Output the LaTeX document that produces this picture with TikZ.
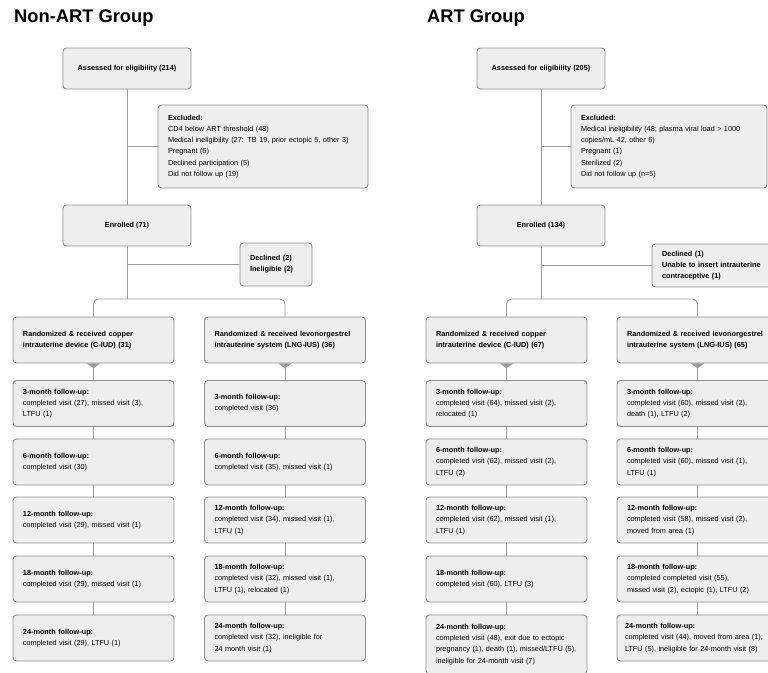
\documentclass[tikz,border=0pt]{standalone}
\usepackage{fontspec}
\setmainfont{Liberation Sans}

\definecolor{boxfill}{HTML}{EEEEEE}
\definecolor{boxline}{HTML}{8F8F8F}
\definecolor{linkline}{HTML}{9C9C9C}
\newcommand{\splitmark}[1]{\fill[linkline] ([xshift=-6.5pt]#1.south) -- ([xshift=6.5pt]#1.south) -- ([yshift=-5pt]#1.south) -- cycle;}

\begin{document}
\begin{tikzpicture}[x=1pt, y=-1pt,
    every node/.style={font=\fontsize{7.3}{11.2}\selectfont},
    box/.style={draw=boxline, fill=boxfill, line width=0.9pt, rounded corners=3.5pt, inner xsep=10pt, inner ysep=0pt, align=left},
    headbox/.style={box, minimum width=128pt, minimum height=41pt, align=center, font=\fontsize{7.3}{11.2}\selectfont\bfseries},
    armbox/.style={box, text width=141pt, minimum height=46pt},
    armhead/.style={armbox, font=\fontsize{7.3}{11.2}\selectfont\bfseries},
    link/.style={draw=linkline, line width=0.9pt},
    heading/.style={anchor=base west, inner sep=0pt, font=\fontsize{18.3}{22}\selectfont\bfseries}]

    \useasboundingbox (0,0) rectangle (768,672);
    \clip (0,0) rectangle (768,672);

    \node[heading] (titleA) at (14,22.7) {Non-ART Group};
    \node[heading] (titleB) at (427,22.7) {ART Group};

    \node[headbox] (assA) at (127,68.5) {Assessed for eligibility (214)};
    \node[box, text width=190pt, minimum height=83pt] (exclA) at (263,146.5) {\textbf{Excluded:}\\CD4 below ART threshold (48)\\Medical ineligibility (27: TB 19, prior ectopic 5, other 3)\\Pregnant (6)\\Declined participation (5)\\Did not follow up (19)};
    \node[headbox] (enrA) at (127,225.5) {Enrolled (71)};
    \node[box, text width=52pt, minimum height=43pt, font=\fontsize{7.3}{11.2}\selectfont\bfseries] (declA) at (276,264.5) {Declined (2)\\Ineligible (2)};

    \node[armhead] (cuA0) at (93.5,340) {Randomized \& received copper\\intrauterine device (C-IUD) (31)};
    \node[armbox] (cuA1) at (93.5,403.5) {\textbf{3-month follow-up:}\\completed visit (27), missed visit (3),\\LTFU (1)};
    \node[armbox] (cuA2) at (93.5,462) {\textbf{6-month follow-up:}\\completed visit (30)};
    \node[armbox] (cuA3) at (93.5,520) {\textbf{12-month follow-up:}\\completed visit (29), missed visit (1)};
    \node[armbox] (cuA4) at (93.5,579) {\textbf{18-month follow-up:}\\completed visit (29), missed visit (1)};
    \node[armbox] (cuA5) at (93.5,638) {\textbf{24-month follow-up:}\\completed visit (29), LTFU (1)};

    \node[armhead] (lnA0) at (285,340) {Randomized \& received levonorgestrel\\intrauterine system (LNG-IUS) (36)};
    \node[armbox] (lnA1) at (285,403.5) {\textbf{3-month follow-up:}\\completed visit (36)};
    \node[armbox] (lnA2) at (285,462) {\textbf{6-month follow-up:}\\completed visit (35), missed visit (1)};
    \node[armbox] (lnA3) at (285,520) {\textbf{12-month follow-up:}\\completed visit (34), missed visit (1),\\LTFU (1)};
    \node[armbox] (lnA4) at (285,579) {\textbf{18-month follow-up:}\\completed visit (32), missed visit (1),\\LTFU (1), relocated (1)};
    \node[armbox] (lnA5) at (285,638) {\textbf{24-month follow-up:}\\completed visit (32), ineligible for\\24 month visit (1)};

    \node[headbox] (assB) at (541,68.5) {Assessed for eligibility (205)};
    \node[box, text width=176pt, minimum height=83pt] (exclB) at (669,146.5) {\textbf{Excluded:}\\Medical ineligibility (48; plasma viral load > 1000\\copies/mL 42, other 6)\\Pregnant (1)\\Sterilized (2)\\Did not follow up (n=5)};
    \node[headbox] (enrB) at (541,225.5) {Enrolled (134)};
    \node[box, text width=108pt, minimum height=43pt, font=\fontsize{7.3}{11.2}\selectfont\bfseries] (declB) at (716,265.5) {Declined (1)\\Unable to insert intrauterine\\contraceptive (1)};

    \node[armhead] (cuB0) at (506.5,340) {Randomized \& received copper\\intrauterine device (C-IUD) (67)};
    \node[armbox] (cuB1) at (506.5,403.5) {\textbf{3-month follow-up:}\\completed visit (64), missed visit (2),\\relocated (1)};
    \node[armbox] (cuB2) at (506.5,462) {\textbf{6-month follow-up:}\\completed visit (62), missed visit (2),\\LTFU (2)};
    \node[armbox] (cuB3) at (506.5,520) {\textbf{12-month follow-up:}\\completed visit (62), missed visit (1),\\LTFU (1)};
    \node[armbox] (cuB4) at (506.5,579) {\textbf{18-month follow-up:}\\completed visit (60), LTFU (3)};
    \node[armbox, minimum height=59pt] (cuB5) at (506.5,644.5) {\textbf{24-month follow-up:}\\completed visit (48), exit due to ectopic\\pregnancy (1), death (1), missed/LTFU (5),\\ineligible for 24-month visit (7)};

    \node[armhead] (lnB0) at (697.5,340) {Randomized \& received levonorgestrel\\intrauterine system (LNG-IUS) (65)};
    \node[armbox] (lnB1) at (697.5,403.5) {\textbf{3-month follow-up:}\\completed visit (60), missed visit (2),\\death (1), LTFU (2)};
    \node[armbox] (lnB2) at (697.5,462) {\textbf{6-month follow-up:}\\completed visit (60), missed visit (1),\\LTFU (1)};
    \node[armbox] (lnB3) at (697.5,520) {\textbf{12-month follow-up:}\\completed visit (58), missed visit (2),\\moved from area (1)};
    \node[armbox] (lnB4) at (697.5,579) {\textbf{18-month follow-up:}\\completed completed visit (55),\\missed visit (2), ectopic (1), LTFU (2)};
    \node[armbox, inner xsep=8pt, text width=145pt] (lnB5) at (697.5,638) {\textbf{24-month follow-up:}\\completed visit (44), moved from area (1),\\LTFU (5), ineligible for 24-month visit (8)};

    \coordinate (splitA) at (127,299);
    \coordinate (splitB) at (541,299);

    \draw[link] (assA) -- (enrA);
    \draw[link] (exclA.west) -- (exclA.west -| assA.south);
    \draw[link] (declA.west) -- (declA.west -| enrA.south);
    \draw[link] (enrA) -- (splitA);
    \draw[link, rounded corners=5pt] (cuA0.north) |- (splitA) -| (lnA0.north);

    \draw[link] (cuA0) -- (cuA1);
    \draw[link] (cuA1) -- (cuA2);
    \draw[link] (cuA2) -- (cuA3);
    \draw[link] (cuA3) -- (cuA4);
    \draw[link] (cuA4) -- (cuA5);
    \draw[link] (lnA0) -- (lnA1);
    \draw[link] (lnA1) -- (lnA2);
    \draw[link] (lnA2) -- (lnA3);
    \draw[link] (lnA3) -- (lnA4);
    \draw[link] (lnA4) -- (lnA5);
    \splitmark{cuA0}
    \splitmark{lnA0}

    \draw[link] (assB) -- (enrB);
    \draw[link] (exclB.west) -- (exclB.west -| assB.south);
    \draw[link] (declB.west) -- (declB.west -| enrB.south);
    \draw[link] (enrB) -- (splitB);
    \draw[link, rounded corners=5pt] (cuB0.north) |- (splitB) -| (lnB0.north);

    \draw[link] (cuB0) -- (cuB1);
    \draw[link] (cuB1) -- (cuB2);
    \draw[link] (cuB2) -- (cuB3);
    \draw[link] (cuB3) -- (cuB4);
    \draw[link] (cuB4) -- (cuB5);
    \draw[link] (lnB0) -- (lnB1);
    \draw[link] (lnB1) -- (lnB2);
    \draw[link] (lnB2) -- (lnB3);
    \draw[link] (lnB3) -- (lnB4);
    \draw[link] (lnB4) -- (lnB5);
    \splitmark{cuB0}
    \splitmark{lnB0}
\end{tikzpicture}
\end{document}
